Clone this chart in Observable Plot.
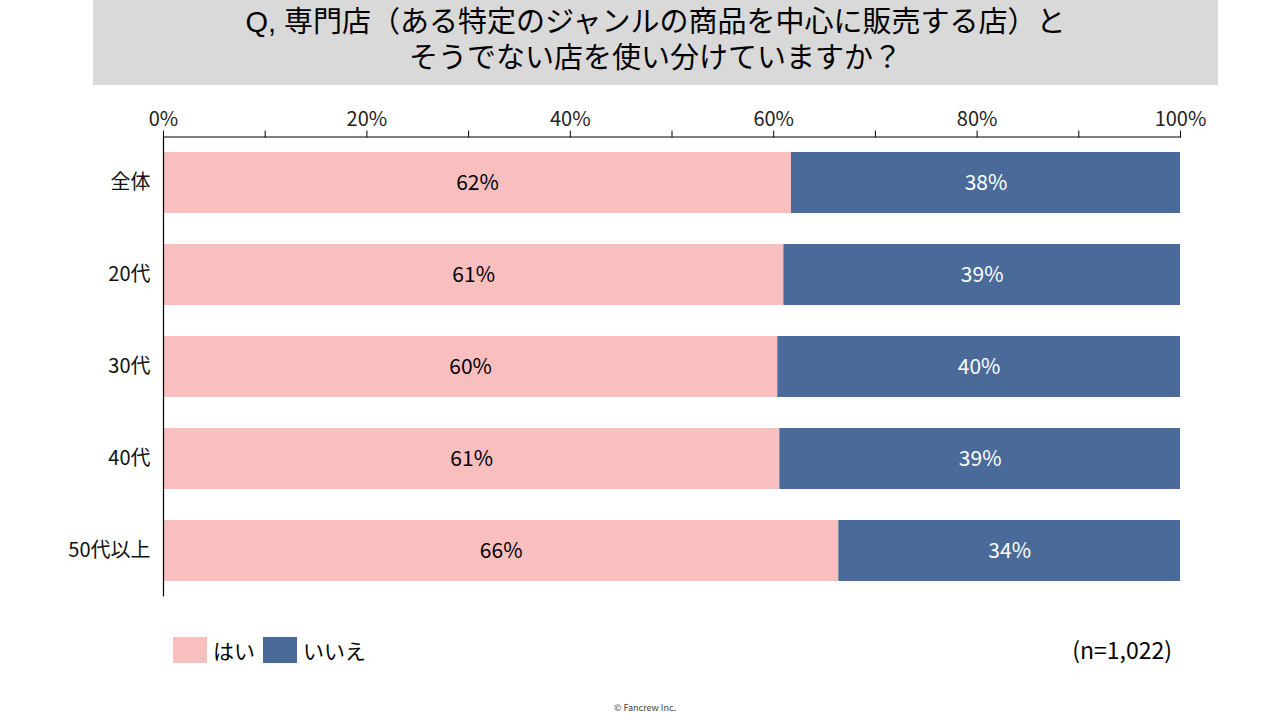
<!DOCTYPE html>
<html>
<head>
<meta charset="utf-8">
<script src="https://cdn.jsdelivr.net/npm/d3@7"></script>
<script src="https://cdn.jsdelivr.net/npm/@observablehq/plot@0.6"></script>
<style>
  html, body { margin: 0; padding: 0; background: #fff; }
  body { width: 1280px; height: 720px; position: relative; overflow: hidden; font-family: "Noto Sans CJK JP", "Noto Sans", sans-serif; color: #000; }
  #title { position: absolute; left: 93px; top: 0; width: 1125px; height: 85px; background: #d9d9d9; }
  .tl { position: absolute; left: 0; width: 100%; text-align: center; font-family: "Liberation Sans", "Noto Sans CJK JP", sans-serif; font-size: 29px; line-height: 34px; height: 34px; white-space: nowrap; }
  #chart { position: absolute; left: 0; top: 90px; }
  #legend { position: absolute; left: 173px; top: 637px; display: flex; align-items: center; font-size: 21px; height: 26px; }
  .sw { width: 34px; height: 26px; display: inline-block; margin-right: 6px; }
  .lab { margin-right: 8px; }
  #note { position: absolute; right: 108px; top: 633px; font-size: 23px; line-height: 32px; }
  #foot { position: absolute; left: 0; width: 1290px; top: 701px; text-align: center; font-size: 9px; color: #444; }
</style>
</head>
<body>
<div id="title"><div class="tl" style="top:5px">Q, 専門店（ある特定のジャンルの商品を中心に販売する店）と</div><div class="tl" style="top:41px">そうでない店を使い分けていますか？</div></div>
<div id="chart"></div>
<div id="legend"></div>
<div id="note">(n=1,022)</div>
<div id="foot">© Fancrew Inc.</div>
<script>
const categories = ["全体", "20代", "30代", "40代", "50代以上"];
const seriesNames = ["はい", "いいえ"];
const seriesColors = ["#f9bfbf", "#4a6b9a"];
const yesValues = [61.75, 61.0, 60.4, 60.6, 66.4];
const noValues = [38.25, 39.0, 39.6, 39.4, 33.6];
const yesLabels = ["62%", "61%", "60%", "61%", "66%"];
const noLabels = ["38%", "39%", "40%", "39%", "34%"];
const majorTicks = [0, 20, 40, 60, 80, 100];
const minorTicks = [0, 10, 20, 30, 40, 50, 60, 70, 80, 90, 100];

const rows = [];
categories.forEach((c, i) => {
  rows.push({cat: c, series: seriesNames[0], value: yesValues[i], label: yesLabels[i]});
  rows.push({cat: c, series: seriesNames[1], value: noValues[i], label: noLabels[i]});
});

const stackOpts = (extra) => Plot.stackX({x: "value", y: "cat", z: "series", order: seriesNames, ...extra});

const chart = Plot.plot({
  width: 1280,
  height: 520,
  marginLeft: 163,
  marginRight: 100,
  marginTop: 46.5,
  marginBottom: 13.5,
  style: {fontFamily: "'Noto Sans CJK JP', sans-serif", fontSize: "20px", color: "#000", background: "transparent", overflow: "visible"},
  x: {domain: [0, 100], axis: null, label: null},
  y: {domain: categories, paddingInner: 0.337, paddingOuter: 0.1685, axis: null, label: null},
  color: {domain: seriesNames, range: seriesColors},
  marks: [
    Plot.barX(rows, stackOpts({fill: "series"})),
    Plot.text(rows, stackOpts({text: d => d.series === seriesNames[0] ? d.label : null, fill: "#000", fontSize: 21})),
    Plot.text(rows, stackOpts({text: d => d.series === seriesNames[1] ? d.label : null, fill: "#fff", fontSize: 21})),
    Plot.axisX(minorTicks, {anchor: "top", tickSize: 7, tickFormat: () => "", stroke: "#000", label: null}),
    Plot.axisX(majorTicks, {anchor: "top", tickSize: 0, tickPadding: 11, tickFormat: d => d + "%", fontSize: 20, fill: "#222", label: null}),
    Plot.axisY({anchor: "left", tickSize: 0, tickPadding: 13, fontSize: 20, fill: "#111", label: null}),
    Plot.frame({anchor: "top", stroke: "#000"}),
    Plot.ruleX([0], {stroke: "#000", strokeWidth: 1.2})
  ]
});
document.getElementById("chart").appendChild(chart);

const legend = document.getElementById("legend");
seriesNames.forEach((s, i) => {
  const sw = document.createElement("span");
  sw.className = "sw";
  sw.style.background = seriesColors[i];
  legend.appendChild(sw);
  const t = document.createElement("span");
  t.className = "lab";
  t.textContent = s;
  legend.appendChild(t);
});
</script>
</body>
</html>
